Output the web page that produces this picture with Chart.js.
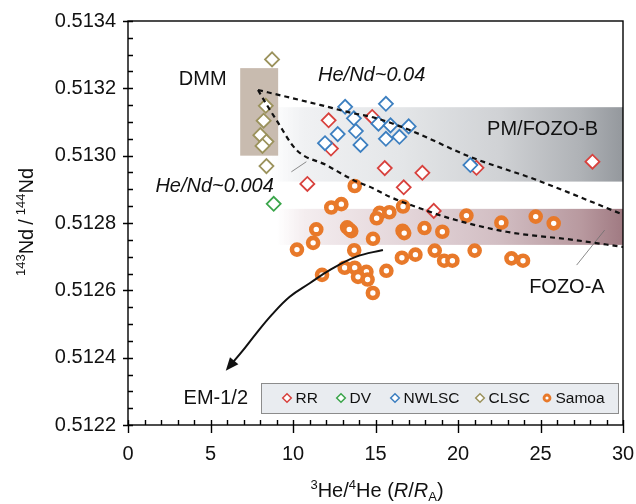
<!DOCTYPE html>
<html>
<head>
<meta charset="utf-8">
<script src="https://cdn.jsdelivr.net/npm/chart.js@4.4.0/dist/chart.umd.min.js"></script>
<style>
  html, body { margin: 0; padding: 0; background: #fff; }
</style>
</head>
<body>
<canvas id="chart" width="636" height="504"></canvas>
<script>
// values: x = 3He/4He (R/RA), y = 143Nd/144Nd
const rrX = [12.16, 12.30, 10.87, 14.80, 15.56, 17.84, 16.71, 18.53, 21.12, 28.15];
const rrY = [0.513105, 0.513021, 0.512916, 0.513115, 0.512963, 0.512949, 0.512906, 0.512836, 0.512964, 0.512982];

const dvX = [8.83];
const dvY = [0.512857];

const nwX = [13.16, 15.63, 13.69, 15.18, 15.91, 17.01, 12.71, 13.81, 15.63, 16.45, 11.94, 14.09, 20.75];
const nwY = [0.513145, 0.513154, 0.513111, 0.513095, 0.513090, 0.513087, 0.513064, 0.513073, 0.513050, 0.513056, 0.513037, 0.513032, 0.512972];

const clX = [8.73, 8.35, 8.22, 8.02, 8.39, 8.15, 8.39];
const clY = [0.513286, 0.513148, 0.513104, 0.513061, 0.513042, 0.513029, 0.512969];

const smX = [13.74, 12.32, 12.93, 11.41, 11.22, 10.24, 13.28, 13.53, 13.41, 14.85, 13.71, 11.76, 13.13, 13.74, 14.45, 13.94, 14.52, 15.66, 14.84, 15.25,
             15.84, 15.07, 16.67, 16.64, 16.74, 17.97, 19.05, 16.60, 17.42, 18.59, 19.16, 19.66, 20.51, 22.63, 24.71, 25.80, 21.01, 23.24, 23.94];
const smY = [0.512910, 0.512846, 0.512856, 0.512781, 0.512741, 0.512721, 0.512787, 0.512776, 0.512781, 0.512753, 0.512719, 0.512646, 0.512667, 0.512667,
             0.512655, 0.512640, 0.512632, 0.512658, 0.512592, 0.512830, 0.512832, 0.512814, 0.512849, 0.512777, 0.512770, 0.512785, 0.512774, 0.512697,
             0.512706, 0.512718, 0.512688, 0.512688, 0.512822, 0.512801, 0.512819, 0.512799, 0.512718, 0.512695, 0.512688];

// mixing curves (He/Nd ~0.04 and ~0.004) and the EM-1/2 arrow
const hiX = [7.88, 9.60, 11.62, 13.64, 14.85, 17.07, 20.71, 24.75, 30];
const hiY = [0.513195, 0.513175, 0.513151, 0.513126, 0.513114, 0.513076, 0.512997, 0.512928, 0.512825];
const loX = [7.88, 8.35, 8.99, 10.21, 12.02, 13.64, 14.85, 15.86, 17.68, 19.50, 22.93, 26.97, 30];
const loY = [0.513195, 0.513156, 0.513106, 0.513017, 0.512972, 0.512928, 0.512903, 0.512878, 0.512844, 0.512814, 0.512774, 0.512750, 0.512729];
const emX = [15.45, 13.84, 12.22, 11.01, 9.80, 8.71, 7.74, 6.89, 6.16];
const emY = [0.51272, 0.51270, 0.51266, 0.512621, 0.512581, 0.512527, 0.51247, 0.512417, 0.512375];

// leader lines for the labels
const lead1X = [9.90, 10.81];
const lead1Y = [0.512952, 0.512982];
const lead2X = [27.19, 28.89];
const lead2Y = [0.512675, 0.512779];

// reservoir fields
const dmmBox = { x0: 6.8, x1: 9.1, y0: 0.51300, y1: 0.51326 };
const pmBand = { x0: 8.5, x1: 30, y0: 0.512923, y1: 0.513144 };
const fozoBand = { x0: 9, x1: 30, y0: 0.512735, y1: 0.512842 };

const xTicks = [0, 5, 10, 15, 20, 25, 30];
const yTicks = [0.5122, 0.5124, 0.5126, 0.5128, 0.5130, 0.5132, 0.5134];

const FAM = '"Liberation Sans", Arial, Helvetica, sans-serif';
const COL = { RR: '#d8413d', DV: '#3aa54a', NWLSC: '#3c7fc0', CLSC: '#9b925c', Samoa: '#e8792a' };

const pts = (xs, ys) => xs.map((v, i) => ({ x: v, y: ys[i] }));

function diamonds(label, xs, ys) {
  return {
    label, data: pts(xs, ys), pointStyle: 'rectRot', pointRadius: 7,
    borderColor: COL[label], backgroundColor: '#fff', pointBorderWidth: 1.8, showLine: false
  };
}

function curve(xs, ys, dash, color, width, tension, mono) {
  return {
    data: pts(xs, ys), showLine: true, pointRadius: 0, borderColor: color, borderWidth: width,
    borderDash: dash, tension: tension, fill: false,
    cubicInterpolationMode: mono ? 'monotone' : 'default'
  };
}

function richText(ctx, segs, x, y, size) {
  const fonts = segs.map(s => (s.i ? 'italic ' : '') + (s.s ? size * 0.65 : size) + 'px ' + FAM);
  let total = 0;
  const ws = segs.map((s, k) => { ctx.font = fonts[k]; const w = ctx.measureText(s.t).width; total += w; return w; });
  let cx = x - total / 2;
  ctx.textAlign = 'left';
  ctx.textBaseline = 'alphabetic';
  segs.forEach((s, k) => {
    ctx.font = fonts[k];
    const dy = s.s === 'sup' ? -size * 0.4 : (s.s === 'sub' ? size * 0.22 : 0);
    ctx.fillText(s.t, cx, y + dy);
    cx += ws[k];
  });
}

function band(chart, b, stops) {
  const { ctx, scales: { x, y } } = chart;
  const l = x.getPixelForValue(b.x0), r = x.getPixelForValue(b.x1);
  const t = y.getPixelForValue(b.y1), btm = y.getPixelForValue(b.y0);
  const g = ctx.createLinearGradient(l, 0, r, 0);
  stops.forEach(s => g.addColorStop(s[0], s[1]));
  ctx.fillStyle = g;
  ctx.fillRect(l, t, r - l, btm - t);
}

const decor = {
  id: 'decor',
  beforeDatasetsDraw(chart) {
    const { ctx, chartArea: a, scales: { x, y } } = chart;
    ctx.save();
    ctx.beginPath(); ctx.rect(a.left, a.top, a.width, a.height); ctx.clip();
    band(chart, pmBand, [[0, 'rgba(240,242,244,0)'], [0.1, 'rgb(240,241,243)'], [0.37, 'rgb(228,230,232)'],
      [0.65, 'rgb(208,210,213)'], [0.88, 'rgb(175,178,182)'], [1, 'rgb(148,152,157)']]);
    band(chart, fozoBand, [[0, 'rgba(245,238,240,0)'], [0.08, 'rgb(244,237,239)'], [0.36, 'rgb(228,214,218)'],
      [0.64, 'rgb(210,190,195)'], [0.88, 'rgb(184,153,159)'], [1, 'rgb(160,122,130)']]);
    // DMM box
    const l = x.getPixelForValue(dmmBox.x0), r = x.getPixelForValue(dmmBox.x1);
    const t = y.getPixelForValue(dmmBox.y1), b = y.getPixelForValue(dmmBox.y0);
    ctx.fillStyle = 'rgb(200,187,175)';
    ctx.fillRect(l, t, r - l, b - t);
    ctx.restore();
  },
  afterDatasetsDraw(chart) {
    const { ctx, chartArea: a, scales: { x, y } } = chart;
    ctx.save();
    // arrow head at the end of the EM-1/2 curve
    const n = emX.length;
    const px = x.getPixelForValue(emX[n - 1]), py = y.getPixelForValue(emY[n - 1]);
    const qx = x.getPixelForValue(emX[n - 2]), qy = y.getPixelForValue(emY[n - 2]);
    const ang = Math.atan2(py - qy, px - qx);
    const tipX = px + Math.cos(ang) * 6, tipY = py + Math.sin(ang) * 6;
    ctx.fillStyle = '#111';
    ctx.beginPath();
    ctx.moveTo(tipX, tipY);
    ctx.lineTo(tipX - Math.cos(ang) * 13 + Math.sin(ang) * 5.5, tipY - Math.sin(ang) * 13 - Math.cos(ang) * 5.5);
    ctx.lineTo(tipX - Math.cos(ang) * 13 - Math.sin(ang) * 5.5, tipY - Math.sin(ang) * 13 + Math.cos(ang) * 5.5);
    ctx.closePath();
    ctx.fill();

    // text labels
    ctx.fillStyle = '#111';
    ctx.textAlign = 'center';
    ctx.textBaseline = 'middle';
    ctx.font = '20px ' + FAM;
    ctx.fillText('DMM', x.getPixelForValue(4.53), y.getPixelForValue(0.513225));
    ctx.fillText('PM/FOZO-B', x.getPixelForValue(25.13), y.getPixelForValue(0.513079));
    ctx.fillText('FOZO-A', x.getPixelForValue(26.6), y.getPixelForValue(0.512607));
    ctx.fillText('EM-1/2', x.getPixelForValue(5.32), y.getPixelForValue(0.512279));
    ctx.font = 'italic 20px ' + FAM;
    ctx.fillText('He/Nd~0.04', x.getPixelForValue(14.77), y.getPixelForValue(0.513237));
    ctx.fillText('He/Nd~0.004', x.getPixelForValue(5.25), y.getPixelForValue(0.512908));

    // legend box
    const lx = a.right - 362, ly = a.bottom - 42, lw = 357, lh = 30;
    ctx.fillStyle = 'rgb(233,236,240)';
    ctx.fillRect(lx, ly, lw, lh);
    ctx.strokeStyle = 'rgb(140,140,140)';
    ctx.lineWidth = 1;
    ctx.strokeRect(lx + 0.5, ly + 0.5, lw, lh);
    const items = [['RR', 26], ['DV', 80], ['NWLSC', 134], ['CLSC', 219], ['Samoa', 286]];
    const cy = ly + lh / 2;
    ctx.font = '15.5px ' + FAM;
    ctx.textAlign = 'left';
    ctx.textBaseline = 'middle';
    items.forEach(([name, off]) => {
      const mx = lx + off;
      ctx.strokeStyle = COL[name];
      if (name === 'Samoa') {
        ctx.lineWidth = 2.8;
        ctx.fillStyle = '#fff';
        ctx.beginPath(); ctx.arc(mx, cy, 3, 0, Math.PI * 2); ctx.fill(); ctx.stroke();
      } else {
        ctx.lineWidth = 1.5;
        ctx.fillStyle = '#fff';
        ctx.beginPath();
        ctx.moveTo(mx, cy - 4.3); ctx.lineTo(mx + 4.3, cy); ctx.lineTo(mx, cy + 4.3); ctx.lineTo(mx - 4.3, cy);
        ctx.closePath(); ctx.fill(); ctx.stroke();
      }
      ctx.fillStyle = '#111';
      ctx.fillText(name, mx + 8.5, cy + 1);
    });
    ctx.restore();
  },
  afterDraw(chart) {
    const { ctx, chartArea: a, scales: { x, y } } = chart;
    ctx.save();
    ctx.strokeStyle = '#000';
    ctx.lineWidth = 1.4;
    ctx.strokeRect(a.left, a.top, a.width, a.height);
    ctx.beginPath();
    for (let v = 0; v <= 30; v++) {
      const p = Math.round(x.getPixelForValue(v)) + 0.5;
      const major = v % 5 === 0;
      ctx.moveTo(p, a.bottom + (major ? 8 : 0));
      ctx.lineTo(p, a.bottom - 5);
    }
    for (let i = 0; i <= 24; i++) {
      const p = Math.round(y.getPixelForValue(0.5122 + i * 0.00005)) + 0.5;
      const major = i % 4 === 0;
      ctx.moveTo(a.left - (major ? 5 : 0), p);
      ctx.lineTo(a.left + 5, p);
    }
    ctx.stroke();

    // axis titles
    ctx.fillStyle = '#111';
    richText(ctx, [{ t: '3', s: 'sup' }, { t: 'He/' }, { t: '4', s: 'sup' }, { t: 'He (' }, { t: 'R', i: 1 }, { t: '/' },
      { t: 'R', i: 1 }, { t: 'A', s: 'sub' }, { t: ')' }], 377, 497, 20);
    ctx.translate(33, 222);
    ctx.rotate(-Math.PI / 2);
    richText(ctx, [{ t: '143', s: 'sup' }, { t: 'Nd\u2009/\u2009' }, { t: '144', s: 'sup' }, { t: 'Nd' }], 0, 0, 20);
    ctx.restore();
  }
};

new Chart(document.getElementById('chart'), {
  type: 'scatter',
  data: {
    datasets: [
      curve(hiX, hiY, [5, 4], '#111', 2.2, 0.4, true),
      curve(loX, loY, [5, 4], '#111', 2.2, 0.4, true),
      curve(emX, emY, [], '#111', 2, 0.4, false),
      curve(lead1X, lead1Y, [], 'rgb(110,110,110)', 0.8, 0, false),
      curve(lead2X, lead2Y, [], 'rgb(110,110,110)', 0.8, 0, false),
      diamonds('CLSC', clX, clY),
      diamonds('NWLSC', nwX, nwY),
      diamonds('RR', rrX, rrY),
      diamonds('DV', dvX, dvY),
      {
        label: 'Samoa', data: pts(smX, smY), pointStyle: 'circle', pointRadius: 5,
        borderColor: COL.Samoa, backgroundColor: '#fff', pointBorderWidth: 4.6, showLine: false
      }
    ]
  },
  options: {
    responsive: false,
    animation: false,
    layout: { padding: { top: 21, right: 13, left: 0, bottom: 0 } },
    plugins: { legend: { display: false }, tooltip: { enabled: false } },
    scales: {
      x: {
        type: 'linear', min: 0, max: 30,
        afterFit: s => { s.height = 79; s.paddingLeft = 0; s.paddingRight = 0; },
        afterBuildTicks: s => { s.ticks = xTicks.map(v => ({ value: v })); },
        grid: { display: false, drawTicks: false },
        border: { display: false },
        ticks: { padding: 17, color: '#111', font: { family: FAM, size: 20 }, maxRotation: 0 }
      },
      y: {
        type: 'linear', min: 0.5122, max: 0.5134,
        afterFit: s => { s.width = 128; s.paddingTop = 0; s.paddingBottom = 0; },
        afterBuildTicks: s => { s.ticks = yTicks.map(v => ({ value: v })); },
        grid: { display: false, drawTicks: false },
        border: { display: false },
        ticks: { padding: 12, color: '#111', font: { family: FAM, size: 20 }, callback: v => v.toFixed(4) }
      }
    }
  },
  plugins: [decor]
});
</script>
</body>
</html>
